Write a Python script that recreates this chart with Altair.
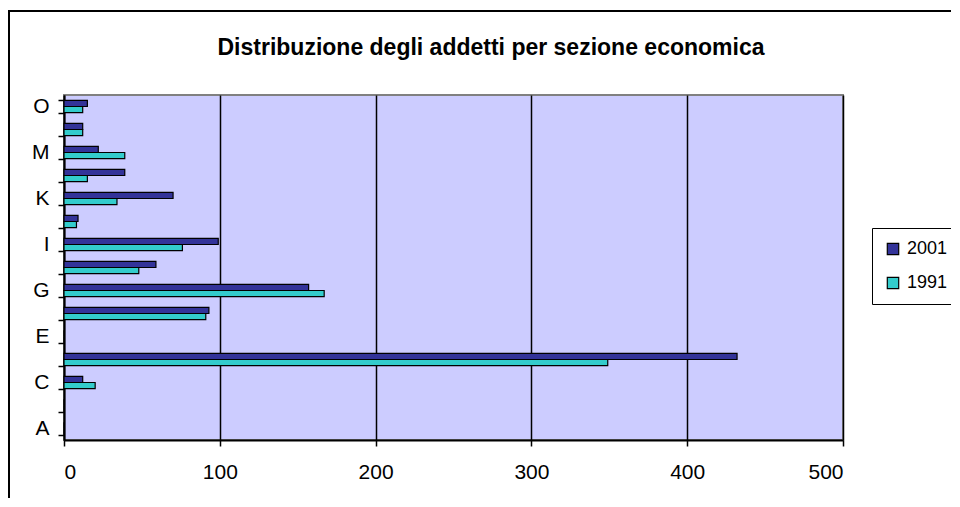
import altair as alt
import pandas as pd

categories = list("ABCDEFGHIJKLMNO")
years = ["2001", "1991"]
v2001 = [0, 0, 12, 432, 0, 93, 157, 59, 99, 9, 70, 39, 22, 12, 15]
v1991 = [0, 0, 20, 349, 0, 91, 167, 48, 76, 8, 34, 15, 39, 12, 12]
x_ticks = [0, 100, 200, 300, 400, 500]
shown_labels = ["A", "C", "E", "G", "I", "K", "M", "O"]
title_text = "Distribuzione degli addetti per sezione economica"

rows = []
for c, a, b in zip(categories, v2001, v1991):
    rows.append({"sezione": c, "anno": "2001", "addetti": a})
    rows.append({"sezione": c, "anno": "1991", "addetti": b})
df = pd.DataFrame(rows)

FONT = "Liberation Sans"
label_expr = "indexof(" + str(shown_labels) + ", datum.value) >= 0 ? datum.value : ''"

bars = alt.Chart(df).mark_bar(stroke="black", strokeWidth=1.2).encode(
    x=alt.X(
        "addetti:Q",
        scale=alt.Scale(domain=[0, 500], nice=False),
        axis=alt.Axis(
            values=x_ticks, title=None, grid=True, gridColor="black", gridWidth=1.5,
            domainColor="black", domainWidth=2, tickColor="black", tickWidth=1.5,
            tickSize=6, labelFontSize=21, labelPadding=15, labelFont=FONT,
            labelColor="black",
        ),
    ),
    y=alt.Y(
        "sezione:N",
        sort=categories[::-1],
        scale=alt.Scale(paddingInner=0.46, paddingOuter=0.23),
        axis=alt.Axis(
            title=None, grid=False, tickBand="extent", labelExpr=label_expr,
            domainColor="black", domainWidth=2, tickColor="black", tickWidth=1.5,
            tickSize=6, labelFontSize=21, labelPadding=9, labelFont=FONT,
            labelColor="black",
        ),
    ),
    yOffset=alt.YOffset("anno:N", sort=years),
    color=alt.Color(
        "anno:N",
        scale=alt.Scale(domain=years, range=["#333399", "#33CCCC"]),
        legend=alt.Legend(
            title=None, orient="none", legendX=808, legendY=133,
            strokeColor="black", fillColor="white", padding=12,
            labelFont=FONT, labelFontSize=18, labelColor="black",
            symbolType="square", symbolSize=130, symbolStrokeColor="black",
            symbolStrokeWidth=1.2, rowPadding=16, labelOffset=5,
        ),
    ),
)

frame = alt.Chart(alt.InlineData(values=[{"k": 1}])).mark_rect(
    filled=False, stroke="black", strokeWidth=2
).encode(
    x=alt.value(-55), x2=alt.value(2000), y=alt.value(-84), y2=alt.value(2000)
)

title = alt.Chart(alt.InlineData(values=[{"t": title_text}])).mark_text(
    font=FONT, fontSize=23, fontWeight="bold", color="black",
    align="center", baseline="middle",
).encode(
    text="t:N", x=alt.value(427), y=alt.value(-47)
)

chart = alt.layer(frame, bars, title).properties(
    width=779,
    height=345,
    autosize=alt.AutoSizeParams(type="none"),
    padding={"left": 56, "top": 87, "right": 108, "bottom": 58},
    background="white",
).configure_view(fill="#CCCCFF", stroke="#808080", strokeWidth=2)

chart.save("out.html", embed_options={"renderer": "svg", "actions": False})
